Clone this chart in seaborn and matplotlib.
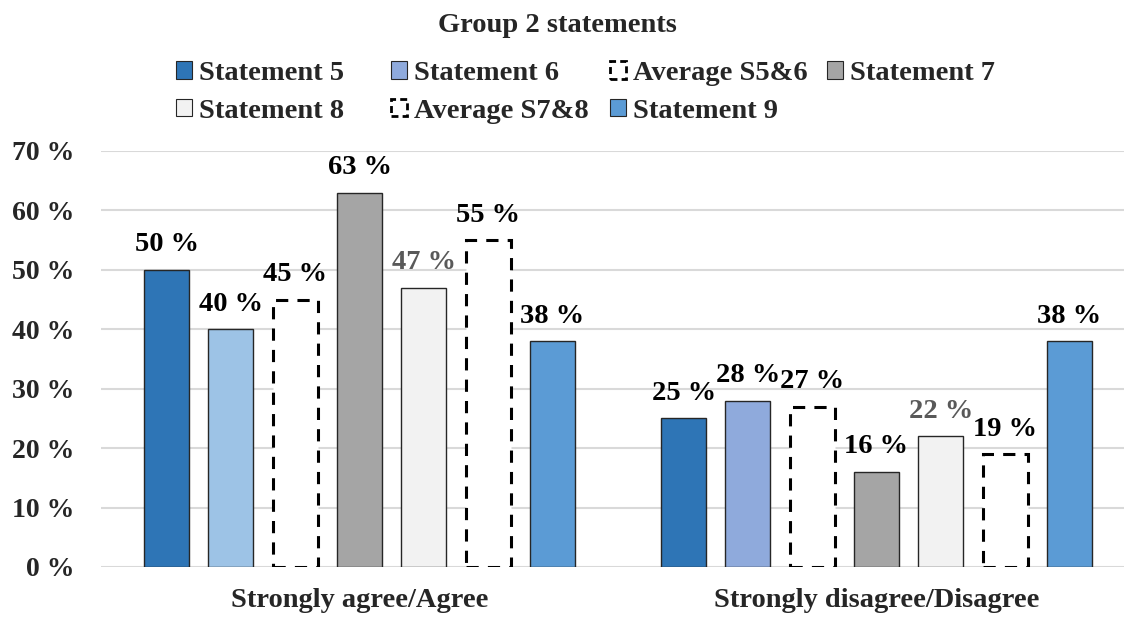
import numpy as np
import pandas as pd
import matplotlib
matplotlib.use("Agg")
import matplotlib.pyplot as plt
import seaborn as sns
from matplotlib.patches import Patch

categories = ["Strongly agree/Agree", "Strongly disagree/Disagree"]
series = ["Statement 5", "Statement 6", "Average S5&6", "Statement 7",
          "Statement 8", "Average S7&8", "Statement 9"]

statement_5 = [50, 25]
statement_6 = [40, 28]
average_56 = [45, 27]
statement_7 = [63, 16]
statement_8 = [47, 22]
average_78 = [55, 19]
statement_9 = [38, 38]

values = [statement_5, statement_6, average_56, statement_7,
          statement_8, average_78, statement_9]

rows = []
for name, vals in zip(series, values):
    for cat, v in zip(categories, vals):
        rows.append({"category": cat, "series": name, "value": v})
df = pd.DataFrame(rows)

palette = {
    "Statement 5": "#2E75B6",
    "Statement 6": "#8FAADC",
    "Average S5&6": "#FFFFFF",
    "Statement 7": "#A5A5A5",
    "Statement 8": "#F2F2F2",
    "Average S7&8": "#FFFFFF",
    "Statement 9": "#5B9BD5",
}
averages = ["Average S5&6", "Average S7&8"]
dash = (0, (4, 3))

sns.set_style("white")
plt.rcParams["font.family"] = ["Liberation Serif", "DejaVu Serif"]
plt.rcParams["font.weight"] = "bold"

fig = plt.figure(figsize=(11.24, 6.17), dpi=100)
ax = fig.add_axes([101 / 1124, 1 - 567 / 617, 1034 / 1124, 416 / 617])

sns.barplot(
    data=df, x="category", y="value", hue="series",
    hue_order=series, order=categories, palette=palette, saturation=1,
    width=0.87, gap=0.3, edgecolor="#262626", linewidth=1.0,
    legend=False, ax=ax, zorder=3,
)

for name, cont in zip(series, ax.containers):
    if name in averages:
        for p in cont:
            p.set_facecolor("white")
            p.set_edgecolor("black")
            p.set_linewidth(2.2)
            p.set_linestyle(dash)
    if name == "Statement 6":
        # left bar uses a lighter blue in the original
        cont[0].set_facecolor("#9DC3E6")
    color = "#595959" if name == "Statement 8" else "black"
    ax.bar_label(cont, labels=[f"{v:.0f} %" for v in cont.datavalues],
                 padding=9, fontsize=20.5, fontweight="bold", color=color,
                 clip_on=False)

ax.set_ylim(0, 70)
ax.set_xlim(-0.5, 1.5)
ax.set_yticks(np.arange(0, 71, 10))
ax.set_yticklabels([f"{t} %" for t in range(0, 71, 10)])
ax.tick_params(axis="y", length=0, pad=19, labelsize=20)
ax.tick_params(axis="x", length=0, pad=15, labelsize=20.5)
ax.set_xlabel("")
ax.set_ylabel("")
ax.yaxis.grid(True, color="#D9D9D9", linewidth=1.5, zorder=0)
ax.set_axisbelow(True)
for s in ax.spines.values():
    s.set_visible(False)

fig.text(557 / 1124, 1 - 25 / 617, "Group 2 statements", ha="center",
         va="center", fontsize=20.5, fontweight="bold")


def make_handle(name):
    if name in averages:
        return Patch(facecolor="white", edgecolor="black", linewidth=2.0,
                     linestyle=(0, (2.5, 1.5)))
    return Patch(facecolor=palette[name], edgecolor="#262626", linewidth=0.8)


legend_cols = [["Statement 5", "Statement 8"],
               ["Statement 6", "Average S7&8"],
               ["Average S5&6", "Statement 9"],
               ["Statement 7"]]
col_x = [176, 391, 610, 827]
for names, x in zip(legend_cols, col_x):
    fig.legend(
        handles=[make_handle(n) for n in names], labels=names,
        loc="upper left", bbox_to_anchor=(x / 1124, 1 - 61 / 617),
        frameon=False, borderpad=0, borderaxespad=0,
        handlelength=0.56, handleheight=0.56, handletextpad=0.25,
        labelspacing=0.45, prop={"size": 20.5, "weight": "bold"},
    )

fig.savefig("out.png", dpi=100)
